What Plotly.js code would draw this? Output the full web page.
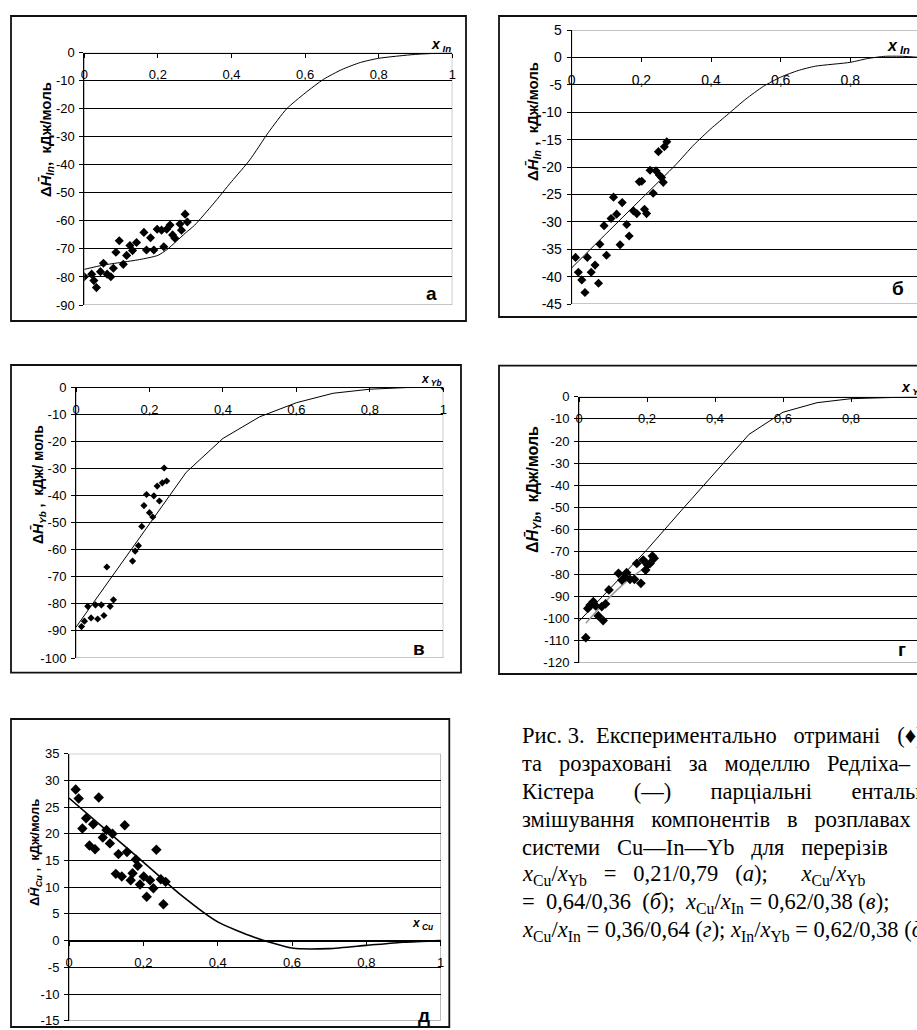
<!DOCTYPE html>
<html>
<head>
<meta charset="utf-8">
<script src="https://cdn.plot.ly/plotly-3.0.1.min.js"></script>
<style>html,body{margin:0;padding:0;background:#fff;}#chart{width:917px;height:1030px;}</style>
</head>
<body>
<div id="chart"></div>
<script>
// ---------- DATA ----------
const xTickVals = [0, 0.2, 0.4, 0.6, 0.8, 1];
const xTickText = ["0", "0,2", "0,4", "0,6", "0,8", "1"];

// panel а : ΔH_In, section xCu/xYb = 0.21/0.79
const aPtsX = [0, 0.02, 0.026, 0.033, 0.044, 0.052, 0.062, 0.072, 0.079, 0.086, 0.095, 0.106, 0.115, 0.124, 0.131, 0.142, 0.162, 0.169, 0.18, 0.189, 0.198, 0.21, 0.216, 0.224, 0.233, 0.24, 0.246, 0.26, 0.264, 0.274, 0.28];
const aPtsY = [-79.9, -79, -81.3, -83.8, -78.1, -75.1, -79, -79.9, -76.9, -71.2, -67.1, -75.5, -72.3, -68.8, -70.6, -67.7, -64.1, -70.4, -66, -70.4, -63, -63.3, -69.2, -63, -61.5, -65, -66.2, -61.1, -63.3, -57.6, -60.4];
const aLineX = [0, 0.05, 0.1, 0.15, 0.2, 0.225, 0.25, 0.275, 0.3, 0.35, 0.4, 0.45, 0.5, 0.55, 0.6, 0.65, 0.7, 0.75, 0.8, 0.9, 1];
const aLineY = [-77.3, -75.8, -74.8, -73.8, -72.3, -70.2, -67.3, -64.3, -61.5, -54, -46, -38.2, -28.5, -20, -14.4, -9.5, -6, -3.5, -2, -0.6, 0];
const aYTicks = [0, -10, -20, -30, -40, -50, -60, -70, -80, -90];

// panel б : ΔH_In, section xCu/xYb = 0.64/0.36
const bPtsX = [0.011, 0.019, 0.029, 0.038, 0.045, 0.056, 0.067, 0.077, 0.081, 0.093, 0.1, 0.113, 0.12, 0.129, 0.139, 0.145, 0.158, 0.165, 0.177, 0.187, 0.194, 0.201, 0.209, 0.215, 0.225, 0.234, 0.242, 0.249, 0.252, 0.258, 0.263, 0.266, 0.273];
const bPtsY = [-36.5, -39.2, -40.6, -42.9, -36.5, -39.2, -37.9, -41.2, -34.1, -30.7, -36.1, -29.4, -25.5, -28.6, -34.2, -26.5, -30.5, -32.6, -28, -28.5, -22.7, -22.6, -27.7, -28.5, -20.6, -24.8, -20.7, -17.2, -21.5, -21.9, -22.8, -16.3, -15.4];
const bLineX = [0, 0.1, 0.2, 0.3, 0.35, 0.4, 0.45, 0.5, 0.55, 0.6, 0.65, 0.7, 0.8, 0.85, 0.9, 0.95, 1];
const bLineY = [-38.4, -32.1, -25.8, -19.5, -16, -13, -10.3, -7.6, -5.3, -3.6, -2.4, -1.6, -0.9, -0.2, 0.2, 0.2, 0];
const bYTicks = [5, 0, -5, -10, -15, -20, -25, -30, -35, -40, -45];

// panel в : ΔH_Yb, section xCu/xIn = 0.62/0.38
const cPtsX = [0.015, 0.023, 0.032, 0.041, 0.053, 0.059, 0.069, 0.076, 0.084, 0.093, 0.102, 0.154, 0.161, 0.17, 0.179, 0.185, 0.192, 0.2, 0.209, 0.212, 0.221, 0.227, 0.235, 0.24, 0.247, 1];
const cPtsY = [-88.4, -86.4, -80.9, -85.2, -80.4, -85.6, -80.4, -84.3, -66.4, -80.9, -78.5, -64.2, -60.5, -58.5, -51.4, -43.7, -39.6, -46.3, -47.9, -40.1, -36.5, -42, -35.3, -29.8, -34.6, 0];
const cLineX = [0, 0.1, 0.2, 0.3, 0.4, 0.5, 0.6, 0.7, 0.8, 0.9, 1];
const cLineY = [-88.6, -69.5, -50.5, -31.4, -18.9, -10.9, -5.7, -2.2, -0.7, -0.1, 0];
const cYTicks = [0, -10, -20, -30, -40, -50, -60, -70, -80, -90, -100];

// panel г : ΔH_Yb, section xCu/xIn = 0.36/0.64
const dPtsX = [0.02, 0.026, 0.033, 0.042, 0.049, 0.057, 0.067, 0.071, 0.078, 0.088, 0.116, 0.126, 0.135, 0.14, 0.15, 0.163, 0.17, 0.182, 0.189, 0.196, 0.202, 0.209, 0.216, 0.221];
const dPtsY = [-108.7, -95.5, -94, -92.5, -94.4, -98.9, -94.7, -101, -93.5, -87.2, -79.7, -82.7, -81.5, -79.4, -82.4, -82.4, -75.2, -84.2, -73.7, -78.2, -75.9, -75.2, -71.9, -72.9];
const dLineX = [0, 0.1, 0.2, 0.3, 0.4, 0.5, 0.6, 0.7, 0.8, 0.9, 1];
const dLineY = [-101.3, -85, -69, -51.5, -34, -17, -7, -2.7, -0.9, -0.3, 0];
const dTrendX = [0.02, 0.12, 0.224];
const dTrendY = [-102.2, -86, -73.7];
const dYTicks = [0, -10, -20, -30, -40, -50, -60, -70, -80, -90, -100, -110, -120];

// panel д : ΔH_Cu, section xIn/xYb = 0.62/0.38
const ePtsX = [0.018, 0.026, 0.036, 0.046, 0.055, 0.065, 0.07, 0.08, 0.091, 0.101, 0.11, 0.117, 0.126, 0.133, 0.142, 0.15, 0.156, 0.166, 0.171, 0.18, 0.185, 0.191, 0.201, 0.209, 0.218, 0.227, 0.235, 0.247, 0.254, 0.26];
const ePtsY = [28.3, 26.6, 21, 22.9, 17.8, 21.8, 17.1, 26.8, 19.3, 20.7, 18.2, 20, 12.5, 16.2, 12, 21.6, 16.6, 11.3, 12.6, 15.2, 14, 10.5, 12, 8.2, 11.3, 9.8, 17, 11.5, 6.8, 11];
const eLineX = [0, 0.1, 0.2, 0.3, 0.4, 0.5, 0.6, 0.7, 0.8, 0.9, 1];
const eLineY = [26.7, 20.7, 14.7, 8.6, 3.5, 0.6, -1.4, -1.5, -0.9, -0.3, 0];
const eYTicks = [35, 30, 25, 20, 15, 10, 5, 0, -5, -10, -15];

const panelLetters = ["а", "б", "в", "г", "д"];
const yTitles = [
  "<b>Δ<i>H̄</i><sub><i>In</i></sub>,  кДж/моль</b>",
  "<b>Δ<i>H̄</i><sub><i>In</i></sub> ,  кДж/моль</b>",
  "<b>Δ<i>H̄</i><sub><i>Yb</i></sub> ,  кДж/ моль</b>",
  "<b>Δ<i>H̄</i><sub><i>Yb</i></sub>,  кДж/моль</b>",
  "<b>Δ<i>H̄</i><sub><i>Cu</i></sub> ,  кДж/моль</b>"
];
const xTitles = [
  "<b><i>x</i></b><sub><b><i> In</i></b></sub>",
  "<b><i>x</i></b><sub><b><i> In</i></b></sub>",
  "<b><i>x</i></b><sub><b><i> Yb</i></b></sub>",
  "<b><i>x</i></b><sub><b><i> Yb</i></b></sub>",
  "<b><i>x</i></b><sub><b><i> Cu</i></b></sub>"
];
const captionLines = [
  "Рис. 3.  Експериментально   отримані   (♦)",
  "та   розраховані   за   моделлю   Редліха–",
  "Кістера       (—)       парціальні       ентальпії",
  "змішування   компонентів   в   розплавах",
  "системи   Cu—In—Yb   для   перерізів",
  "<i>x</i><sub>Cu</sub>/<i>x</i><sub>Yb</sub>   =   0,21/0,79   (<i>а</i>);      <i>x</i><sub>Cu</sub>/<i>x</i><sub>Yb</sub>",
  "=  0,64/0,36  (<i>б</i>);  <i>x</i><sub>Cu</sub>/<i>x</i><sub>In</sub> = 0,62/0,38 (<i>в</i>);",
  "<i>x</i><sub>Cu</sub>/<i>x</i><sub>In</sub> = 0,36/0,64 (<i>г</i>); <i>x</i><sub>In</sub>/<i>x</i><sub>Yb</sub> = 0,62/0,38 (<i>д</i>)."
];

// ---------- LAYOUT GEOMETRY (pixels) ----------
const W = 917, H = 1030;
const fx = p => p / W;
const fy = p => 1 - p / H;

const geo = [
  {px0: 84.3, px1: 452.3, xr: [0, 1], pyTop: 52.7, pyBot: 305, yr: [-90, 0], frame: [11, 16, 466, 321],
   ytitle: [47, 140, 15], xtitle: [441, 45, 14, 'center'], letter: [431, 293], msize: 7, lw: 1, tfs: 13, shape: 'spline'},
  {px0: 571.7, px1: 917, xr: [0, (917 - 571.7) / 348.3], pyTop: 30, pyBot: 304, yr: [-45, 5], frame: [499, 16, 940, 317],
   ytitle: [533, 122, 15], xtitle: [898, 47, 16, 'center'], letter: [898, 288], msize: 7, lw: 1, tfs: 14, shape: 'spline'},
  {px0: 76, px1: 443.3, xr: [0, 1], pyTop: 387.3, pyBot: 658, yr: [-100, 0], frame: [11, 365, 461, 672.7],
   ytitle: [38, 485, 14], xtitle: [431, 380, 12, 'center'], letter: [419, 648], msize: 5.5, lw: 1, tfs: 13, shape: 'linear'},
  {px0: 579, px1: 917, xr: [0, (917 - 579) / 340], pyTop: 396.7, pyBot: 662.7, yr: [-120, 0], frame: [499, 365.7, 940, 674],
   ytitle: [533, 490, 16], xtitle: [899, 388, 14, 'left'], letter: [902, 649], msize: 7.5, lw: 1, tfs: 13, shape: 'linear'},
  {px0: 69, px1: 440.7, xr: [0, 1], pyTop: 753.7, pyBot: 1020.7, yr: [-15, 35], frame: [11, 719, 449.3, 1027],
   ytitle: [35, 853, 13], xtitle: [422, 924, 12, 'center'], letter: [424, 1015], msize: 8, lw: 1.6, tfs: 13, shape: 'spline'}
];

const pts = [[aPtsX, aPtsY], [bPtsX, bPtsY], [cPtsX, cPtsY], [dPtsX, dPtsY], [ePtsX, ePtsY]];
const lines = [[aLineX, aLineY], [bLineX, bLineY], [cLineX, cLineY], [dLineX, dLineY], [eLineX, eLineY]];
const yTicks = [aYTicks, bYTicks, cYTicks, dYTicks, eYTicks];

const tickFont = {family: "'Liberation Sans Narrow', 'Liberation Sans', Arial, sans-serif", color: '#000'};
const data = [];
const layout = {
  width: W, height: H,
  margin: {l: 0, r: 0, t: 0, b: 0, pad: 0},
  paper_bgcolor: '#fff', plot_bgcolor: 'rgba(0,0,0,0)',
  showlegend: false,
  shapes: [], annotations: []
};

geo.forEach((g, i) => {
  const n = i === 0 ? '' : String(i + 1);
  const xa = 'x' + n, ya = 'y' + n;
  const yPix0 = g.pyTop + (g.yr[1] - 0) / (g.yr[1] - g.yr[0]) * (g.pyBot - g.pyTop);

  data.push({x: lines[i][0], y: lines[i][1], xaxis: xa, yaxis: ya, mode: 'lines',
    line: {color: '#000', width: g.lw, shape: g.shape, smoothing: 0.6}, hoverinfo: 'skip'});
  if (i === 3) {
    data.push({x: dTrendX, y: dTrendY, xaxis: xa, yaxis: ya, mode: 'lines',
      line: {color: '#9a9a9a', width: 1.5, shape: 'spline'}, hoverinfo: 'skip'});
  }
  data.push({x: pts[i][0], y: pts[i][1], xaxis: xa, yaxis: ya, mode: 'markers',
    marker: {symbol: 'diamond', size: g.msize, color: '#000', line: {width: 0}}, hoverinfo: 'skip'});

  layout['xaxis' + n] = {
    domain: [fx(g.px0), fx(g.px1)], range: g.xr, anchor: 'free', position: fy(yPix0),
    showline: true, linecolor: '#000', linewidth: 1, showgrid: false, zeroline: false,
    ticks: 'outside', ticklen: 4, tickcolor: '#000', tickwidth: 1,
    tickmode: 'array', tickvals: xTickVals, ticktext: xTickText,
    tickfont: Object.assign({size: g.tfs}, tickFont), ticklabelstandoff: 6, fixedrange: true
  };
  layout['yaxis' + n] = {
    domain: [fy(g.pyBot), fy(g.pyTop)], range: g.yr, anchor: xa,
    showline: true, linecolor: '#000', linewidth: 1, showgrid: true, gridcolor: '#000', gridwidth: 1,
    zeroline: false, ticks: 'outside', ticklen: 4, tickcolor: '#000',
    tickmode: 'array', tickvals: yTicks[i], ticktext: yTicks[i].map(v => String(v)),
    tickfont: Object.assign({size: g.tfs}, tickFont), ticklabelstandoff: 2, fixedrange: true
  };
  layout.shapes.push({type: 'rect', xref: xa, yref: ya, x0: 0, x1: 1, y0: g.yr[0], y1: g.yr[1],
    line: {color: '#8a8a8a', width: 1}, layer: 'below'});
  const f = g.frame;
  layout.shapes.push({type: 'rect', xref: 'paper', yref: 'paper', x0: fx(f[0]), x1: fx(f[2]), y0: fy(f[3]), y1: fy(f[1]),
    line: {color: '#111', width: 1.8}});

  layout.annotations.push({xref: 'paper', yref: 'paper', x: fx(g.ytitle[0]), y: fy(g.ytitle[1]),
    xanchor: 'center', yanchor: 'middle', textangle: -90, showarrow: false, text: yTitles[i],
    font: {family: "'Liberation Sans', Arial, sans-serif", size: g.ytitle[2], color: '#000'}});
  layout.annotations.push({xref: 'paper', yref: 'paper', x: fx(g.xtitle[0]), y: fy(g.xtitle[1]),
    xanchor: g.xtitle[3], yanchor: 'middle', showarrow: false, text: xTitles[i],
    font: {family: "'Liberation Sans', Arial, sans-serif", size: g.xtitle[2], color: '#000'}});
  layout.annotations.push({xref: 'paper', yref: 'paper', x: fx(g.letter[0]), y: fy(g.letter[1]),
    xanchor: 'center', yanchor: 'middle', showarrow: false, text: '<b>' + panelLetters[i] + '</b>',
    font: {family: "'Liberation Sans', Arial, sans-serif", size: 19, color: '#000'}});
});

// caption (justified look through non-breaking spaces)
captionLines.forEach((t, k) => {
  layout.annotations.push({xref: 'paper', yref: 'paper', x: fx(520), y: fy(735 + 28 * k),
    xanchor: 'left', yanchor: 'middle', showarrow: false, align: 'left',
    text: t.replace(/ /g, '\u00a0'),
    font: {family: "'Liberation Serif', 'Times New Roman', serif", size: 22.5, color: '#000'}});
});

Plotly.newPlot('chart', data, layout, {staticPlot: true, displayModeBar: false});
</script>
</body>
</html>
